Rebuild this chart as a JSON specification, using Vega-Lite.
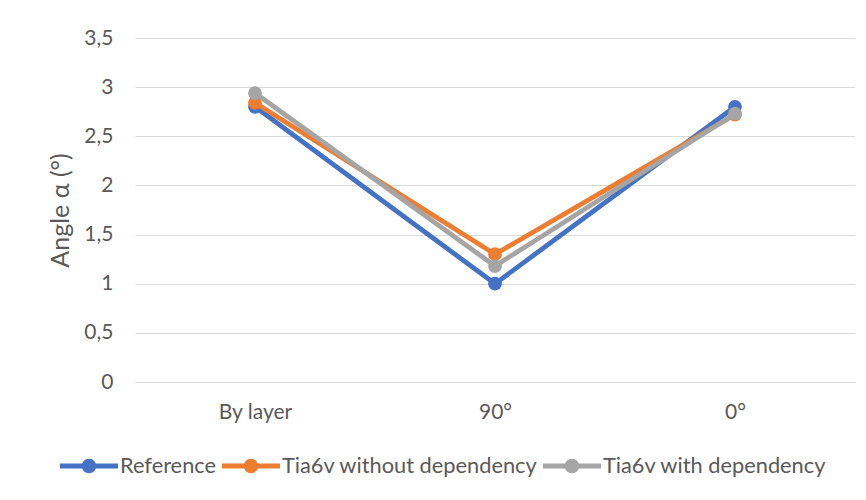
{
  "$schema": "https://vega.github.io/schema/vega-lite/v6.json",
  "autosize": "none",
  "width": 720,
  "height": 344,
  "padding": {"left": 135, "top": 38, "right": 11, "bottom": 118},
  "background": "white",
  "data": {"values": [
    {"category": "By layer", "series": "Reference", "angle": 2.80},
    {"category": "90°", "series": "Reference", "angle": 1.00},
    {"category": "0°", "series": "Reference", "angle": 2.80},
    {"category": "By layer", "series": "Tia6v without dependency", "angle": 2.84},
    {"category": "90°", "series": "Tia6v without dependency", "angle": 1.30},
    {"category": "0°", "series": "Tia6v without dependency", "angle": 2.72},
    {"category": "By layer", "series": "Tia6v with dependency", "angle": 2.94},
    {"category": "90°", "series": "Tia6v with dependency", "angle": 1.18},
    {"category": "0°", "series": "Tia6v with dependency", "angle": 2.73}
  ]},
  "encoding": {
    "x": {
      "field": "category", "type": "ordinal", "sort": ["By layer", "90°", "0°"],
      "scale": {"type": "point", "padding": 0.5},
      "axis": {"title": null, "labelAngle": 0, "labelFont": "Lato", "labelFontSize": 21, "labelColor": "#595959", "labelPadding": 19, "ticks": false, "domainColor": "#D9D9D9", "domainWidth": 1, "grid": false}
    },
    "y": {
      "field": "angle", "type": "quantitative",
      "scale": {"domain": [0, 3.5], "nice": false},
      "axis": {"title": "Angle α (°)", "titleFont": "Lato", "titleFontSize": 25, "titleFontWeight": "normal", "titleColor": "#595959", "titlePadding": 10, "values": [0, 0.5, 1, 1.5, 2, 2.5, 3, 3.5], "labelExpr": "replace(toString(datum.value), '.', ',')", "labelFont": "Lato", "labelFontSize": 21, "labelColor": "#595959", "labelPadding": 22, "ticks": false, "domain": false, "gridColor": "#D9D9D9", "gridWidth": 1}
    },
    "color": {
      "field": "series", "type": "nominal",
      "scale": {"domain": ["Reference", "Tia6v without dependency", "Tia6v with dependency"], "range": ["#4472C4", "#ED7D31", "#A5A5A5"]},
      "legend": {
        "title": null, "orient": "none", "direction": "horizontal", "legendX": -75, "legendY": 399,
        "labelFont": "Lato", "labelFontSize": 21.8, "labelColor": "#595959", "labelOffset": 2, "columnPadding": 5, "labelLimit": 400,
        "symbolSize": 3364,
        "symbolType": "M-1,-0.086L1,-0.086L1,0.086L-1,0.086Z M0.25,0A0.25,0.25 0 1,1 -0.25,0A0.25,0.25 0 1,1 0.25,0Z",
        "encode": {"symbols": {"update": {"fill": {"scale": "color", "field": "value"}, "stroke": {"value": "transparent"}, "strokeWidth": {"value": 0}}}}
      }
    }
  },
  "layer": [
    {"transform": [{"filter": "datum.series === 'Reference'"}], "mark": {"type": "line", "strokeWidth": 4.8, "point": {"filled": true, "size": 190, "opacity": 1}}},
    {"transform": [{"filter": "datum.series === 'Tia6v without dependency'"}], "mark": {"type": "line", "strokeWidth": 4.8, "point": {"filled": true, "size": 190, "opacity": 1}}},
    {"transform": [{"filter": "datum.series === 'Tia6v with dependency'"}], "mark": {"type": "line", "strokeWidth": 4.8, "point": {"filled": true, "size": 190, "opacity": 1}}}
  ],
  "config": {"view": {"stroke": null}, "font": "Lato"}
}
